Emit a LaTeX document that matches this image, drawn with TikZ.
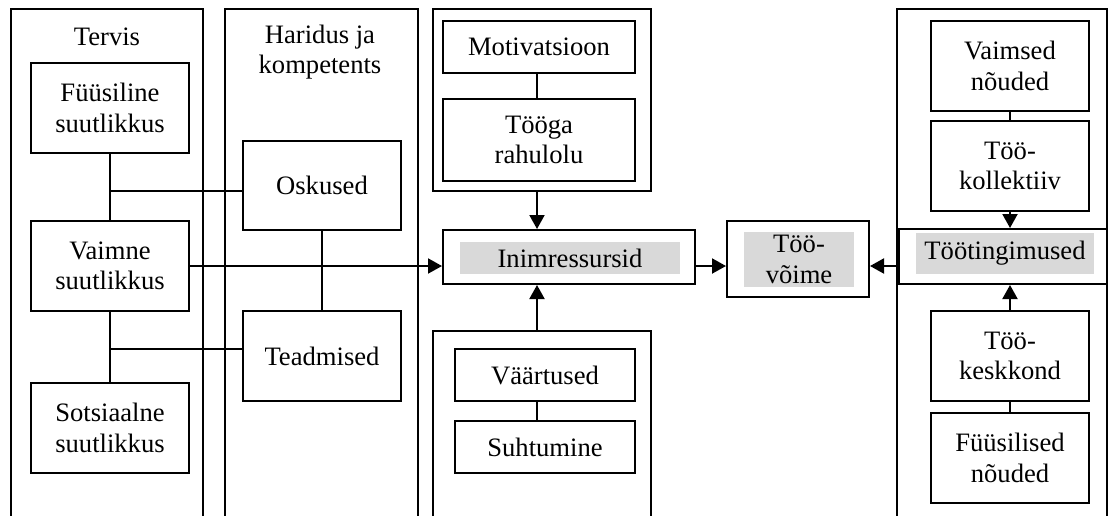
\documentclass[tikz,border=0pt]{standalone}
\usepackage{fontspec}
\setmainfont{Liberation Serif}
\usepackage{tikz}
\usetikzlibrary{arrows.meta}

\begin{document}
\begin{tikzpicture}[x=0.5pt, y=-0.5pt, line width=1pt,
        font=\fontsize{13.3}{15.3}\selectfont,
        main/.style = {draw, align=center, inner sep=0pt},
        shade/.style = {fill=gray!30, align=center, inner sep=0pt},
        arr/.style = {-{Triangle[length=7pt,width=7.5pt]}}]
            \useasboundingbox (0,0) rectangle (1109,515);

            % rühmad
            \draw (11,520) -- (11,9) -- (203,9) -- (203,520);
            \draw (225,520) -- (225,9) -- (418,9) -- (418,520);
            \draw (433,9) rectangle (651,191);
            \draw (433,520) -- (433,331) -- (651,331) -- (651,520);
            \draw (897,520) -- (897,9) -- (1107,9) -- (1107,520);

            \node (tervis) at (107,37) {Tervis};
            \node[align=center] (haridus) at (320,52) {Haridus ja\\kompetents};

            \node[main, minimum width=79pt, minimum height=45pt] (fys) at (110,108) {Füüsiline\\suutlikkus};
            \node[main, minimum width=79pt, minimum height=45pt] (vaim) at (110,266) {Vaimne\\suutlikkus};
            \node[main, minimum width=79pt, minimum height=45pt] (sots) at (110,428) {Sotsiaalne\\suutlikkus};
            \node[main, minimum width=79pt, minimum height=44.5pt] (osk) at (322,185.5) {Oskused};
            \node[main, minimum width=79pt, minimum height=45pt] (tead) at (322,356) {Teadmised};

            \node[main, minimum width=96pt, minimum height=26pt] (moti) at (539,47) {Motivatsioon};
            \node[main, minimum width=96pt, minimum height=41pt] (tooga) at (539,140) {Tööga\\rahulolu};
            \node[main, minimum width=126pt, minimum height=27pt] (inim) at (569,257) {};
            \node[shade, minimum width=110pt, minimum height=16pt] (inimtxt) at (570,258) {Inimressursid};
            \node[main, minimum width=90pt, minimum height=26pt] (vaar) at (545,375) {Väärtused};
            \node[main, minimum width=90pt, minimum height=26pt] (suht) at (545,447) {Suhtumine};

            \node[main, minimum width=71pt, minimum height=38pt] (voime) at (798,259) {};
            \node[shade, minimum width=55pt, minimum height=27.5pt] (voimetxt) at (799,259.5) {Töö-\\võime};

            \node[main, minimum width=79pt, minimum height=45pt] (vaimsed) at (1010,66) {Vaimsed\\nõuded};
            \node[main, minimum width=79pt, minimum height=45pt] (kol) at (1010,166) {Töö-\\kollektiiv};
            \node[main, minimum width=104pt, minimum height=27.5pt] (ting) at (1003,256.5) {};
            \node[shade, minimum width=89pt, minimum height=20.5pt] (tingtxt) at (1005,253.5) {Töötingimused};
            \node[main, minimum width=79pt, minimum height=45pt] (kesk) at (1010,356) {Töö-\\keskkond};
            \node[main, minimum width=79pt, minimum height=45pt] (fyysn) at (1010,458) {Füüsilised\\nõuded};

            % ühendused
            \coordinate (j1) at (110,191);
            \coordinate (j2) at (110,349);
            \coordinate (colM) at (537,0);
            \coordinate (gmbot) at (537,191);
            \coordinate (gvtop) at (537,331);

            \draw (fys) -- (vaim);
            \draw (vaim) -- (sots);
            \draw (j1) -- (j1 -| osk.west);
            \draw (j2) -- (j2 -| tead.west);
            \draw (osk) -- (tead);

            \draw (moti.south -| colM) -- (tooga.north -| colM);
            \draw (vaar.south -| colM) -- (suht.north -| colM);
            \draw[arr] (gmbot) -- (gmbot |- inim.north);
            \draw[arr] (gvtop) -- (gvtop |- inim.south);

            \draw[arr] (vaim.east) -- (vaim.east -| inim.west);
            \draw[arr] (inim.east |- vaim.east) -- (voime.west |- vaim.east);
            \draw[arr] (ting.west |- vaim.east) -- (voime.east |- vaim.east);

            \draw (vaimsed) -- (kol);
            \draw[arr] (kol.south) -- (kol.south |- ting.north);
            \draw[arr] (kesk.north) -- (kesk.north |- ting.south);
            \draw (kesk) -- (fyysn);
        \end{tikzpicture}
\end{document}
